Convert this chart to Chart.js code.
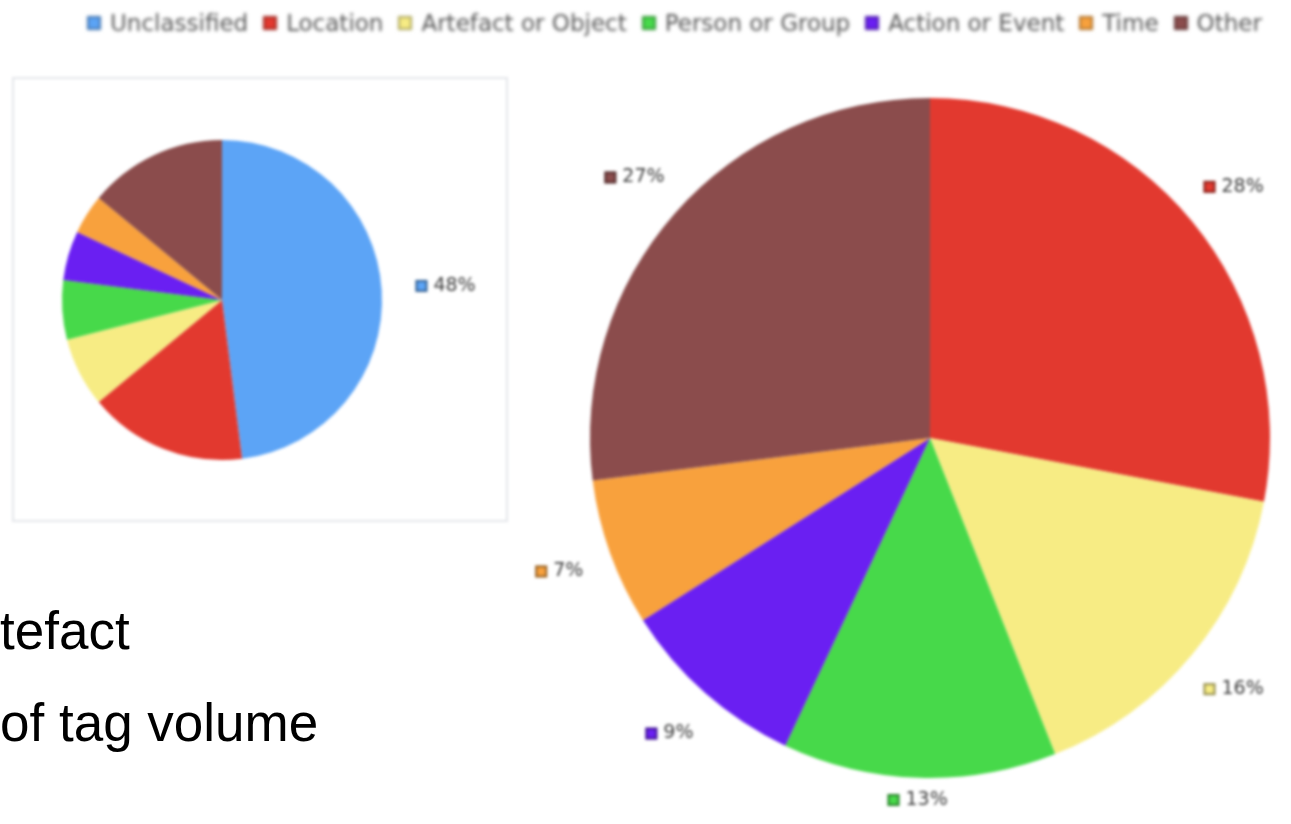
<!DOCTYPE html>
<html>
<head>
<meta charset="utf-8">
<script src="https://cdn.jsdelivr.net/npm/chart.js@4.4.1/dist/chart.umd.min.js"></script>
<style>
  body { margin: 0; width: 1291px; height: 824px; background: #fff; overflow: hidden; position: relative; font-family: "DejaVu Sans", sans-serif; }
  #grafico { position: absolute; left: 0; top: 0; width: 1291px; height: 824px; filter: blur(1.8px); }
  #legenda { position: absolute; left: 87px; top: 10px; display: flex; align-items: center; font-size: 23px; color: #555; white-space: nowrap; filter: blur(1.2px); }
  #legenda .item { display: flex; align-items: center; margin-right: 15px; }
  #legenda .cor { width: 14px; height: 14px; margin-right: 9px; box-shadow: inset 0 0 0 2px rgba(0,0,0,0.3); }
  #caixa { position: absolute; left: 12px; top: 77px; width: 492px; height: 441px; border: 2px solid #e4e6ea; }
  #boxPequeno { position: absolute; left: 0; top: 60px; width: 520px; height: 480px; }
  #boxGrande { position: absolute; left: 480px; top: 60px; width: 811px; height: 764px; }
  .texto { position: absolute; left: 0; font-family: "Liberation Sans", Arial, sans-serif; font-size: 53px; line-height: 1; color: #000; white-space: nowrap; }
</style>
</head>
<body>
<div id="grafico">
  <div id="legenda"></div>
  <div id="caixa"></div>
  <div id="boxPequeno"><canvas id="pizzaTodos"></canvas></div>
  <div id="boxGrande"><canvas id="pizzaClassificados"></canvas></div>
</div>
<div class="texto" style="top:604px">tefact</div>
<div class="texto" style="top:696px">of tag volume</div>

<script>
// categorias e cores das fatias
const categorias = ['Unclassified', 'Location', 'Artefact or Object', 'Person or Group', 'Action or Event', 'Time', 'Other'];
const cores = ['#5ca4f6', '#e2392f', '#f7ec84', '#47d94a', '#6a1ff2', '#f8a13d', '#8b4c4c'];

// todas as tags (pizza pequena)
const valoresTodos = [48, 16, 7, 6, 5, 4, 14];
// só as tags classificadas (pizza grande, sem "Unclassified")
const valoresClassificados = [28, 16, 13, 9, 7, 27];

// legenda comum no topo
const legenda = document.getElementById('legenda');
categorias.forEach((nome, i) => {
    const item = document.createElement('div');
    item.className = 'item';
    item.innerHTML = `<span class="cor" style="background:${cores[i]}"></span><span>${nome}</span>`;
    legenda.appendChild(item);
});

// percentagens desenhadas fora da pizza, com quadradinho da cor
const etiquetasFora = {
    id: 'etiquetasFora',
    afterDatasetsDraw(chart, args, opts) {
        const ctx = chart.ctx;
        const ds = chart.data.datasets[0];
        const total = ds.data.reduce((a, b) => a + b, 0);
        ctx.save();
        ctx.font = '19px "DejaVu Sans"';
        ctx.textBaseline = 'middle';
        chart.getDatasetMeta(0).data.forEach((arco, i) => {
            if (opts.mostrar && !opts.mostrar.includes(i)) return;
            const p = arco.getProps(['x', 'y', 'startAngle', 'endAngle', 'outerRadius'], true);
            const meio = (p.startAngle + p.endAngle) / 2;
            const texto = Math.round(ds.data[i] / total * 100) + '%';
            const w = 18 + ctx.measureText(texto).width;
            const cx = p.x + Math.cos(meio) * (p.outerRadius + opts.distancia);
            // não deixa a etiqueta sair por baixo do canvas
            const cy = Math.min(p.y + Math.sin(meio) * (p.outerRadius + opts.distancia), chart.height - 24);
            const esq = cx - w / 2;
            ctx.fillStyle = ds.backgroundColor[i];
            ctx.fillRect(esq, cy - 6, 12, 12);
            ctx.strokeStyle = 'rgba(0,0,0,0.4)';
            ctx.lineWidth = 2;
            ctx.strokeRect(esq + 1, cy - 5, 10, 10);
            ctx.fillStyle = '#3c3c3c';
            ctx.fillText(texto, esq + 18, cy);
        });
        ctx.restore();
    }
};

function opcoes(padding, etiquetas) {
    return {
        responsive: true,
        maintainAspectRatio: false,
        animation: false,
        layout: { padding: padding },
        plugins: {
            legend: { display: false },
            tooltip: { enabled: false },
            etiquetasFora: etiquetas
        }
    };
}

new Chart(document.getElementById('pizzaTodos'), {
    type: 'pie',
    data: {
        labels: categorias,
        datasets: [{ data: valoresTodos, backgroundColor: cores, borderWidth: 0 }]
    },
    options: opcoes({ left: 62, right: 138, top: 80, bottom: 80 }, { distancia: 64, mostrar: [0] }),
    plugins: [etiquetasFora]
});

new Chart(document.getElementById('pizzaClassificados'), {
    type: 'pie',
    data: {
        labels: categorias.slice(1),
        datasets: [{ data: valoresClassificados, backgroundColor: cores.slice(1), borderWidth: 0 }]
    },
    options: opcoes({ left: 110, right: 21, top: 38, bottom: 46 }, { distancia: 54 }),
    plugins: [etiquetasFora]
});
</script>
</body>
</html>
